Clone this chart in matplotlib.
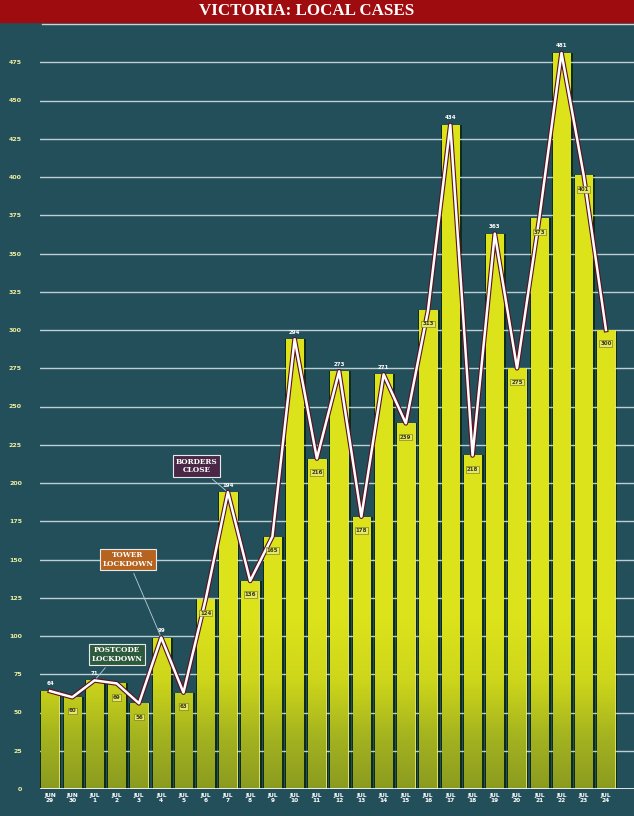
import matplotlib.pyplot as plt
import matplotlib.patheffects as pe
import numpy as np
from matplotlib.colors import LinearSegmentedColormap

# daily local cases, Victoria
days = ['JUN\n29', 'JUN\n30', 'JUL\n1', 'JUL\n2', 'JUL\n3', 'JUL\n4', 'JUL\n5', 'JUL\n6',
        'JUL\n7', 'JUL\n8', 'JUL\n9', 'JUL\n10', 'JUL\n11', 'JUL\n12', 'JUL\n13', 'JUL\n14',
        'JUL\n15', 'JUL\n16', 'JUL\n17', 'JUL\n18', 'JUL\n19', 'JUL\n20', 'JUL\n21', 'JUL\n22',
        'JUL\n23', 'JUL\n24']
cases = [64, 60, 71, 69, 56, 99, 63, 124, 194, 136, 165, 294, 216, 273, 178, 271,
         239, 313, 434, 218, 363, 275, 373, 481, 401, 300]
yticks = list(range(0, 476, 25))

# events marked on the chart: (text, box x, box y, target day index, box colour)
events = [('POSTCODE\nLOCKDOWN', 3.0, 88, 2, '#2d5a3c'),
          ('TOWER\nLOCKDOWN', 3.5, 150, 5, '#b5631f'),
          ('BORDERS\nCLOSE', 6.6, 211, 8, '#4a2747')]

bg = '#234f5a'
fig = plt.figure(figsize=(6.34, 8.16), dpi=100, facecolor=bg)
ax = fig.add_axes([40 / 634, 27 / 816, 594 / 634, 765 / 816])
ax.set_facecolor(bg)

x = np.arange(len(cases))

# dark shadow strip behind each bar (grid shows through it)
ax.bar(x + 0.04, cases, width=0.95, color='#0f2c16', zorder=1)

# grid
for t in yticks[1:]:
    ax.axhline(t, color='#d8e8ea', lw=1.0, alpha=0.85, zorder=1.5)

# yellow bars with an olive fade near the bottom
cmap = LinearSegmentedColormap.from_list('bar', ['#8a9a20', '#a3b21f', '#cdd61a', '#dde31a'])
grad = np.linspace(0, 1, 500).reshape(-1, 1)
grad = np.clip(grad * 4.5, 0, 1) ** 0.9
bars = ax.bar(x, cases, width=0.78, color='#dce21a', edgecolor='#eef07a', lw=0.6, zorder=3)
for b in bars:
    im = ax.imshow(grad, cmap=cmap, origin='lower', aspect='auto', zorder=3.2,
                   interpolation='bilinear',
                   extent=(b.get_x(), b.get_x() + b.get_width(), 0, 500))
    im.set_clip_path(b)

# trend line
ax.plot(x, cases, color='white', lw=1.8, zorder=5,
        path_effects=[pe.Stroke(linewidth=3.4, foreground='#5c1020'), pe.Normal()])

# value labels
for i, v in enumerate(cases):
    prev = cases[i - 1] if i > 0 else 0
    nxt = cases[i + 1] if i < len(cases) - 1 else 0
    if v >= prev and v >= nxt:
        ax.text(i, v + 3, str(v), ha='center', va='bottom', fontsize=4, color='white',
                fontweight='bold', zorder=6)
    else:
        ax.text(i, v - 9, str(v), ha='center', va='center', fontsize=4, color='#3a3a10',
                fontweight='bold', zorder=6,
                bbox=dict(boxstyle='square,pad=0.15', fc='#e4e86a', ec='#6b6b20', lw=0.4))

# event boxes
for label, bx, by, di, col in events:
    ax.annotate(label, xy=(di, cases[di]), xytext=(bx, by), ha='center', va='center',
                fontsize=5.2, color='white', fontweight='bold', family='DejaVu Serif',
                linespacing=1.1, zorder=7,
                bbox=dict(boxstyle='square,pad=0.35', fc=col, ec='#e8e8e8', lw=0.8),
                arrowprops=dict(arrowstyle='-', color='#b8d0d4', lw=0.6))

# baseline
ax.axhline(0, color='white', lw=1.2, zorder=4)

ax.set_xlim(-0.45, 26.26)
ax.set_ylim(0, 500)
ax.set_yticks(yticks)
ax.set_yticklabels([str(t) for t in yticks], fontsize=4.5, color='#eef0a0', fontweight='bold')
ax.set_xticks(x)
ax.set_xticklabels(days, fontsize=4.2, color='white', fontweight='bold', linespacing=0.9)
ax.tick_params(length=0, pad=13, axis='y')
ax.tick_params(length=0, pad=3, axis='x')
for s in ax.spines.values():
    s.set_visible(False)

# title banner
fig.patches.append(plt.Rectangle((0, 1 - 22 / 816), 1, 22 / 816, transform=fig.transFigure,
                                 color='#9e0c0f', zorder=10))
fig.add_artist(plt.Line2D([42 / 634, 1], [1 - 24 / 816] * 2, color='#d0d0d0', lw=1.0))
fig.text(0.484, 1 - 11 / 816, 'VICTORIA: LOCAL CASES', ha='center', va='center',
         fontsize=12.2, color='white', fontweight='bold', family='Liberation Serif', zorder=11)

fig.savefig('out.png', dpi=100, facecolor=bg)
